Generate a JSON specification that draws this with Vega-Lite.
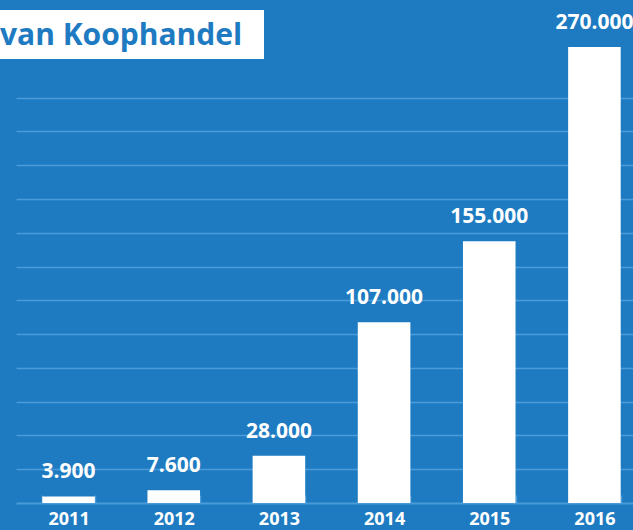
{
  "$schema": "https://vega.github.io/schema/vega-lite/v6.json",
  "width": 617,
  "height": 473,
  "autosize": {"type": "none"},
  "padding": {"left": 16, "top": 30, "right": 0, "bottom": 27},
  "background": "#1e7bc1",
  "title": {
    "text": "van Koophandel",
    "anchor": "start",
    "frame": "group",
    "orient": "top",
    "offset": 0,
    "dx": -16,
    "dy": 65,
    "baseline": "alphabetic",
    "font": "Open Sans",
    "fontSize": 30,
    "fontWeight": "bold",
    "color": "#1e7bc1"
  },
  "config": {
    "view": {"stroke": null},
    "locale": {
      "number": {"decimal": ",", "thousands": ".", "grouping": [3], "currency": ["€", ""]}
    }
  },
  "data": {
    "values": [
      {"year": "2011", "value": 3900},
      {"year": "2012", "value": 7600},
      {"year": "2013", "value": 28000},
      {"year": "2014", "value": 107000},
      {"year": "2015", "value": 155000},
      {"year": "2016", "value": 270000}
    ]
  },
  "layer": [
    {
      "data": {"values": [{"box": "title"}]},
      "mark": {"type": "rect", "color": "white"},
      "encoding": {
        "x": {"value": -16},
        "x2": {"value": 248},
        "y": {"value": -20},
        "y2": {"value": 29}
      }
    },
    {
      "mark": {"type": "bar", "color": "white"},
      "encoding": {
        "x": {
          "field": "year",
          "type": "nominal",
          "sort": null,
          "scale": {"range": [0, 631], "paddingInner": 0.5, "paddingOuter": 0.25},
          "axis": {
            "title": null,
            "labelAngle": 0,
            "domainColor": "#4b9bd8",
            "domainWidth": 2,
            "tickColor": "#4b9bd8",
            "tickWidth": 1.5,
            "tickSize": -8,
            "tickBand": "extent",
            "labelColor": "white",
            "labelFont": "Open Sans",
            "labelFontWeight": "bold",
            "labelFontSize": 18,
            "labelPadding": 15,
            "grid": false
          }
        },
        "y": {
          "field": "value",
          "type": "quantitative",
          "scale": {"domain": [0, 280000], "nice": false},
          "axis": {
            "title": null,
            "labels": false,
            "ticks": false,
            "domain": false,
            "grid": true,
            "gridColor": "#4b9bd8",
            "gridWidth": 1.5,
            "values": [20000, 40000, 60000, 80000, 100000, 120000, 140000, 160000, 180000, 200000, 220000, 240000]
          }
        }
      }
    },
    {
      "mark": {
        "type": "text",
        "color": "white",
        "font": "Open Sans",
        "fontWeight": "bold",
        "fontSize": 21,
        "baseline": "alphabetic",
        "dy": -18
      },
      "encoding": {
        "x": {"field": "year", "type": "nominal", "sort": null},
        "y": {"field": "value", "type": "quantitative"},
        "text": {"field": "value", "type": "quantitative", "format": ",d"}
      }
    }
  ]
}
